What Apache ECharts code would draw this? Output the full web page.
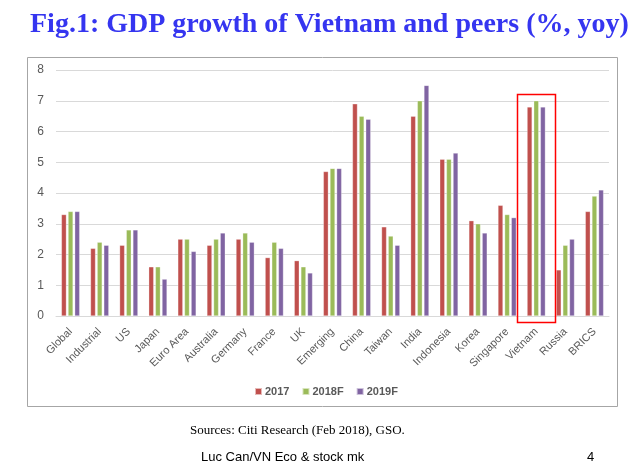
<!DOCTYPE html>
<html>
<head>
<meta charset="utf-8">
<script src="https://cdn.jsdelivr.net/npm/echarts@6/dist/echarts.min.js"></script>
<style>
html,body{margin:0;padding:0;background:#fff;}
#c{width:640px;height:476px;}
</style>
</head>
<body>
<div id="c"></div>
<script>
const categories = ['Global','Industrial','US','Japan','Euro Area','Australia','Germany','France','UK','Emerging','China','Taiwan','India','Indonesia','Korea','Singapore','Vietnam','Russia','BRICS'];
const s2017  = [3.3,2.2,2.3,1.6,2.5,2.3,2.5,1.9,1.8,4.7,6.9,2.9,6.5,5.1,3.1,3.6,6.8,1.5,3.4];
const s2018F = [3.4,2.4,2.8,1.6,2.5,2.5,2.7,2.4,1.6,4.8,6.5,2.6,7.0,5.1,3.0,3.3,7.0,2.3,3.9];
const s2019F = [3.4,2.3,2.8,1.2,2.1,2.7,2.4,2.2,1.4,4.8,6.4,2.3,7.5,5.3,2.7,3.2,6.8,2.5,4.1];
const seriesNames = ['2017','2018F','2019F'];
const yTicks = [0,1,2,3,4,5,6,7,8];
const highlight = 'Vietnam';

const colors = ['#C0504D','#9BBB59','#8064A2'];
const chart = echarts.init(document.getElementById('c'), null, {renderer:'canvas'});
const mk = (name, data, i) => ({
  name, type:'bar', data, barWidth:5, barGap:'33%',
  itemStyle:{color:colors[i], borderColor:'rgba(255,255,255,0.6)', borderWidth:0.5}
});
chart.setOption({
  animation:false,
  title:{
    text:'Fig.1: GDP growth of Vietnam and peers (%, yoy)',
    left:25, top:6,
    textStyle:{fontFamily:'Liberation Serif', fontWeight:'bold', fontSize:28, color:'#3535F0'}
  },
  legend:{
    data:seriesNames, top:381, left:249,
    itemWidth:7, itemHeight:7, itemGap:12,
    icon:'rect',
    textStyle:{fontFamily:'Liberation Sans', fontWeight:'bold', fontSize:11, color:'#595959', padding:[0,0,0,-2]}
  },
  grid:{left:56, right:31, top:70, bottom:160, containLabel:false},
  xAxis:{
    type:'category', data:categories,
    axisLine:{lineStyle:{color:'#d9d9d9'}},
    axisTick:{show:false},
    axisLabel:{rotate:45, fontFamily:'Liberation Sans', fontSize:11, color:'#595959', interval:0, margin:14}
  },
  yAxis:{
    type:'value', min:yTicks[0], max:yTicks[yTicks.length-1], interval:1,
    axisLine:{show:false}, axisTick:{show:false},
    splitLine:{lineStyle:{color:'#d9d9d9'}},
    axisLabel:{fontFamily:'Liberation Sans', fontSize:12, color:'#595959', margin:12}
  },
  series:[mk(seriesNames[0], s2017, 0), mk(seriesNames[1], s2018F, 1), mk(seriesNames[2], s2019F, 2)]
});
const pTop = chart.convertToPixel({xAxisIndex:0,yAxisIndex:0},[highlight,7]);
const pBot = chart.convertToPixel({xAxisIndex:0,yAxisIndex:0},[highlight,0]);
chart.setOption({
  graphic:[
    {type:'rect', shape:{x:27.5,y:57.5,width:590,height:349}, style:{fill:'none', stroke:'#a6a6a6', lineWidth:1}, z:-1},
    {type:'rect', shape:{x:Math.round(pTop[0]-19)+0.5, y:Math.round(pTop[1]-7)+0.5, width:38, height:Math.round(pBot[1]-pTop[1]+13)}, style:{fill:'none', stroke:'#FF0000', lineWidth:1.5}, z:10},
    {type:'text', left:190, top:424, style:{text:'Sources: Citi Research (Feb 2018), GSO.', font:'13px "Liberation Serif"', fill:'#000'}},
    {type:'text', left:201, top:451, style:{text:'Luc Can/VN Eco & stock mk', font:'13px "Liberation Sans"', fill:'#000'}},
    {type:'text', left:587, top:451, style:{text:'4', font:'13px "Liberation Sans"', fill:'#000'}}
  ]
});
</script>
</body>
</html>
